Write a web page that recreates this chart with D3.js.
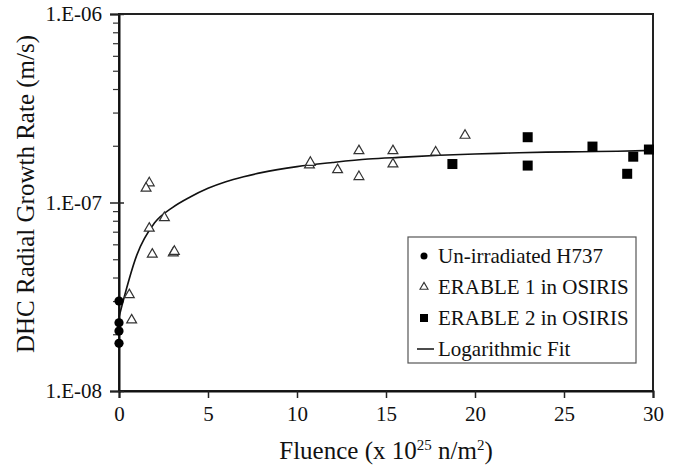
<!DOCTYPE html>
<html>
<head>
<meta charset="utf-8">
<script src="https://cdn.jsdelivr.net/npm/d3@7"></script>
<style>
  html, body { margin: 0; padding: 0; background: #fff; }
  svg, svg text { font-family: "Liberation Serif", "DejaVu Serif", serif !important; fill: #111; }
</style>
</head>
<body>
<div id="chart"></div>
<script>
// Données (fluence en 1e25 n/m2, vitesse en m/s)
const unirrFluence = [0, 0, 0, 0];
const unirrRate = [3.0e-8, 2.3e-8, 2.08e-8, 1.79e-8];

const erable1Fluence = [1.70, 1.52, 1.70, 2.55, 1.87, 3.05, 3.11, 0.58, 0.71,
    10.7, 10.75, 12.28, 13.48, 13.48, 15.39, 15.39, 17.79, 19.44];
const erable1Rate = [1.27e-7, 1.19e-7, 7.3e-8, 8.3e-8, 5.31e-8, 5.4e-8, 5.5e-8, 3.24e-8, 2.38e-8,
    1.58e-7, 1.63e-7, 1.49e-7, 1.88e-7, 1.37e-7, 1.88e-7, 1.60e-7, 1.85e-7, 2.27e-7];

const erable2Fluence = [18.73, 22.96, 22.96, 26.6, 28.55, 28.89, 29.77];
const erable2Rate = [1.60e-7, 2.22e-7, 1.57e-7, 1.98e-7, 1.42e-7, 1.75e-7, 1.91e-7];

// Courbe de tendance
const fitFluence = [0, 1, 2, 3, 4, 5, 6, 7, 8, 10, 12, 14, 16, 18, 20, 22, 24, 26, 28, 30];
const fitRate = [2.47e-8, 5.26e-8, 7.8e-8, 9.4e-8, 1.07e-7, 1.19e-7, 1.29e-7, 1.37e-7, 1.44e-7,
    1.55e-7, 1.63e-7, 1.70e-7, 1.74e-7, 1.78e-7, 1.81e-7, 1.83e-7, 1.85e-7, 1.86e-7, 1.87e-7, 1.89e-7];

const xTicks = [0, 5, 10, 15, 20, 25, 30];
const yTicks = [1e-8, 1e-7, 1e-6];
const yTickLabels = ['1.E-08', '1.E-07', '1.E-06'];
const legendLabels = ['Un-irradiated H737', 'ERABLE 1 in OSIRIS', 'ERABLE 2 in OSIRIS', 'Logarithmic Fit'];

const FONT = '"Liberation Serif", "DejaVu Serif", serif';
const width = 677;
const height = 471;
const margin = { top: 14, right: 24, bottom: 80, left: 119 };
const innerW = width - margin.left - margin.right;
const innerH = height - margin.top - margin.bottom;

const svg = d3.select("#chart")
    .append("svg")
    .attr("width", width)
    .attr("height", height)
    .attr("font-family", FONT);

const g = svg.append("g")
    .attr("transform", `translate(${margin.left},${margin.top})`);

const xScale = d3.scaleLinear().domain([0, 30]).range([0, innerW]);
const yScale = d3.scaleLog().domain([1e-8, 1e-6]).range([innerH, 0]);

// Cadre
g.append("rect")
    .attr("width", innerW)
    .attr("height", innerH)
    .attr("fill", "none")
    .attr("stroke", "#222")
    .attr("stroke-width", 2);

// Axe X
const xAxis = g.append("g")
    .attr("transform", `translate(0,${innerH})`)
    .call(d3.axisBottom(xScale).tickValues(xTicks).tickSize(7).tickPadding(8).tickFormat(d3.format("d")));
xAxis.attr("font-family", FONT);
xAxis.select(".domain").attr("stroke", "#111").attr("stroke-width", 2);
xAxis.selectAll(".tick line").attr("stroke", "#222").attr("stroke-width", 1.5);
xAxis.selectAll("text").attr("font-size", 21).style("font-size", "21px").attr("fill", "#111");

// Axe Y (ticks mineurs)
const minorTicks = [];
[1e-8, 1e-7].forEach(dec => {
    for (let k = 2; k <= 9; k++) minorTicks.push(dec * k);
});
const yMinor = g.append("g")
    .call(d3.axisLeft(yScale).tickValues(minorTicks).tickSize(6).tickFormat(""));
yMinor.select(".domain").remove();
yMinor.selectAll(".tick line").attr("stroke", "#333").attr("stroke-width", 1.2);

const yAxis = g.append("g")
    .call(d3.axisLeft(yScale).tickValues(yTicks).tickSize(9).tickPadding(8)
        .tickFormat((d, i) => yTickLabels[i]));
yAxis.attr("font-family", FONT);
yAxis.select(".domain").attr("stroke", "#111").attr("stroke-width", 2);
yAxis.selectAll(".tick line").attr("stroke", "#222").attr("stroke-width", 1.5)
    .attr("x1", -9).attr("x2", 5);
yAxis.selectAll("text").attr("font-size", 21).style("font-size", "21px").attr("fill", "#111");

// Courbe
const line = d3.line()
    .x((d, i) => xScale(fitFluence[i]))
    .y(d => yScale(d))
    .curve(d3.curveMonotoneX);
g.append("path")
    .datum(fitRate)
    .attr("d", line)
    .attr("fill", "none")
    .attr("stroke", "#111")
    .attr("stroke-width", 1.6);

// Symboles
const triangle = d3.symbol().type(d3.symbolTriangle).size(42);

g.selectAll(".erable1")
    .data(erable1Rate)
    .join("path")
    .attr("class", "erable1")
    .attr("d", triangle)
    .attr("transform", (d, i) => `translate(${xScale(erable1Fluence[i])},${yScale(d)})`)
    .attr("fill", "white")
    .attr("stroke", "#333")
    .attr("stroke-width", 1.2);

g.selectAll(".erable2")
    .data(erable2Rate)
    .join("rect")
    .attr("class", "erable2")
    .attr("x", (d, i) => xScale(erable2Fluence[i]) - 5)
    .attr("y", d => yScale(d) - 5)
    .attr("width", 10)
    .attr("height", 10)
    .attr("fill", "#000");

g.selectAll(".unirr")
    .data(unirrRate)
    .join("circle")
    .attr("class", "unirr")
    .attr("cx", (d, i) => xScale(unirrFluence[i]))
    .attr("cy", d => yScale(d))
    .attr("r", 4.6)
    .attr("fill", "#000");

// Légende
const legend = svg.append("g").attr("transform", "translate(408,237)");
legend.append("rect")
    .attr("width", 228)
    .attr("height", 126)
    .attr("fill", "white")
    .attr("stroke", "#555")
    .attr("stroke-width", 1.2);

legendLabels.forEach((label, i) => {
    const cy = 19 + i * 31;
    const row = legend.append("g").attr("transform", `translate(16,${cy})`);
    if (i === 0) {
        row.append("circle").attr("r", 3.5).attr("fill", "#000");
    } else if (i === 1) {
        row.append("path").attr("d", d3.symbol().type(d3.symbolTriangle).size(28))
            .attr("fill", "white").attr("stroke", "#333").attr("stroke-width", 1.1);
    } else if (i === 2) {
        row.append("rect").attr("x", -4).attr("y", -4).attr("width", 8).attr("height", 8).attr("fill", "#000");
    } else {
        row.append("line").attr("x1", -7).attr("x2", 10).attr("stroke", "#111").attr("stroke-width", 1.5);
    }
    row.append("text")
        .attr("x", 14)
        .attr("dy", "0.35em")
        .attr("font-size", 21)
        .text(label);
});

// Titres des axes
const xLabel = svg.append("text")
    .attr("x", margin.left + innerW / 2)
    .attr("y", 459)
    .attr("text-anchor", "middle")
    .attr("font-size", 25);
xLabel.append("tspan").text("Fluence (x 10");
xLabel.append("tspan").attr("dy", "-9").attr("font-size", 15).text("25");
xLabel.append("tspan").attr("dy", "9").text(" n/m");
xLabel.append("tspan").attr("dy", "-9").attr("font-size", 15).text("2");
xLabel.append("tspan").attr("dy", "9").text(")");

svg.append("text")
    .attr("transform", `translate(34,194) rotate(-90)`)
    .attr("text-anchor", "middle")
    .attr("font-size", 25)
    .text("DHC Radial Growth Rate (m/s)");
</script>
</body>
</html>
